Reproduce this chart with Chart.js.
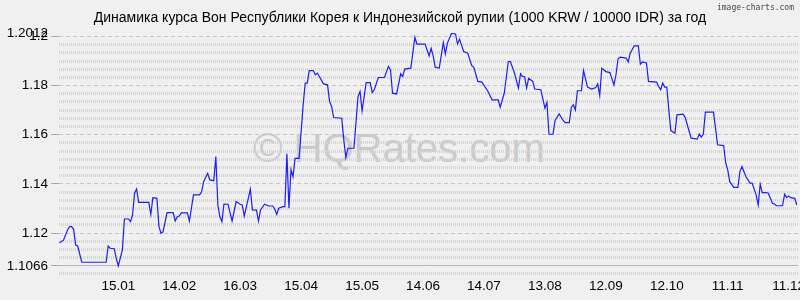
<!DOCTYPE html>
<html>
<head>
<meta charset="utf-8">
<script src="https://cdn.jsdelivr.net/npm/chart.js@4"></script>
<style>
  body { margin: 0; background: #f0f0f0; }
  #wrap { position: relative; width: 800px; height: 300px; overflow: hidden; }
  #chart { position: absolute; left: 0; top: 0; z-index: 2; }
  .title { position: absolute; left: 0; width: 800px; top: 9px; text-align: center;
           font: 14px "Liberation Sans", Arial, sans-serif; color: #000; z-index: 3; }
  .brand { position: absolute; right: 6px; top: 3px; font: 8px "DejaVu Sans Mono", monospace;
           color: #444; z-index: 3; }
  .mark { position: absolute; left: 253px; top: 128px; font: 40px/40px "Liberation Sans", Arial, sans-serif;
          color: #cacaca; white-space: nowrap; z-index: 1; }
</style>
</head>
<body>
<div id="wrap">
  <div class="mark">© HQRates.com</div>
  <canvas id="chart" width="800" height="300"></canvas>
  <div class="title">Динамика курса Вон Республики Корея к Индонезийской рупии (1000 KRW / 10000 IDR) за год</div>
  <div class="brand">image-charts.com</div>
</div>
<script>
// days counted from 16.12 of the previous year
const days = [1, 3, 5, 6, 7, 8, 9, 10, 12, 24, 25, 26, 28, 29, 30, 32, 33, 35, 36, 37, 38, 39, 40, 45, 46, 47, 49, 50,
  51, 52, 54, 57, 58, 59, 60, 61, 64, 65, 67, 70, 71, 72, 74, 75, 77, 78, 79, 80, 81, 82, 84, 86, 88, 90, 91, 92,
  95, 96, 98, 99, 100, 102, 104, 106, 107, 108, 109, 111, 112, 113, 114, 115, 116, 117, 119, 121, 122, 123, 124,
  126, 127, 128, 131, 133, 134, 135, 136, 140, 141, 142, 143, 146, 148, 149, 150, 152, 154, 155, 156, 158, 161,
  163, 164, 165, 167, 169, 170, 171, 174, 176, 177, 181, 183, 184, 185, 186, 188, 190, 191, 192, 194, 196, 197,
  198, 200, 202, 204, 205, 207, 209, 212, 214, 217, 218, 220, 222, 223, 225, 227, 228, 229, 230, 231, 232, 234,
  235, 238, 240, 241, 242, 244, 245, 247, 249, 250, 252, 253, 254, 255, 256, 258, 259, 261, 263, 265, 266, 267,
  268, 270, 272, 274, 275, 276, 277, 280, 281, 282, 284, 286, 287, 288, 290, 291, 295, 296, 297, 298, 299, 300,
  301, 302, 304, 305, 308, 309, 312, 315, 316, 317, 318, 319, 323, 325, 328, 329, 330, 331, 333, 335, 336, 337,
  339, 341, 342, 344, 345, 346, 347, 349, 350, 352, 353, 354, 357, 358, 359, 360, 361, 363, 364];

const rates = [1.1160, 1.1171, 1.1212, 1.1226, 1.1226, 1.1215, 1.1151, 1.1147, 1.1081, 1.1081, 1.1147, 1.1138,
  1.1136, 1.1097, 1.1066, 1.1131, 1.1257, 1.1257, 1.1246, 1.1273, 1.1362, 1.1379, 1.1325, 1.1325, 1.1276, 1.1344,
  1.1341, 1.1226, 1.1199, 1.1205, 1.1283, 1.1283, 1.1249, 1.1266, 1.1269, 1.1282, 1.1282, 1.1249, 1.1355, 1.1355,
  1.1368, 1.1409, 1.1443, 1.1416, 1.1413, 1.1511, 1.1314, 1.1266, 1.1246, 1.1318, 1.1317, 1.1249, 1.1328, 1.1317,
  1.1314, 1.1269, 1.1378, 1.1294, 1.1293, 1.1249, 1.1294, 1.1317, 1.1310, 1.1310, 1.1298, 1.1276, 1.1301, 1.1307,
  1.1307, 1.1522, 1.1301, 1.1457, 1.1429, 1.1504, 1.1504, 1.1722, 1.1810, 1.1810, 1.1861, 1.1861, 1.1844, 1.1851,
  1.1807, 1.1803, 1.1735, 1.1715, 1.1670, 1.1667, 1.1579, 1.1508, 1.1545, 1.1545, 1.1755, 1.1776, 1.1697, 1.1812,
  1.1812, 1.1772, 1.1783, 1.1833, 1.1833, 1.1878, 1.1864, 1.1769, 1.1766, 1.1848, 1.1837, 1.1867, 1.1871, 1.1997,
  1.1969, 1.1969, 1.1921, 1.1952, 1.1921, 1.1875, 1.1871, 1.1975, 1.1929, 1.1973, 1.2012, 1.2010, 1.1969, 1.1989,
  1.1939, 1.1932, 1.1881, 1.1874, 1.1817, 1.1814, 1.1776, 1.1742, 1.1742, 1.1712, 1.1769, 1.1898, 1.1898, 1.1851,
  1.1790, 1.1848, 1.1837, 1.1837, 1.1790, 1.1830, 1.1817, 1.1786, 1.1783, 1.1708, 1.1731, 1.1602, 1.1602, 1.1658,
  1.1685, 1.1658, 1.1649, 1.1649, 1.1711, 1.1722, 1.1701, 1.1779, 1.1779, 1.1861, 1.1794, 1.1786, 1.1792, 1.1807,
  1.1759, 1.1871, 1.1857, 1.1853, 1.1803, 1.1844, 1.1908, 1.1916, 1.1912, 1.1896, 1.1932, 1.1962, 1.1962, 1.1887,
  1.1896, 1.1892, 1.1817, 1.1814, 1.1796, 1.1783, 1.1810, 1.1794, 1.1794, 1.1701, 1.1617, 1.1606, 1.1681, 1.1684,
  1.1672, 1.1586, 1.1582, 1.1603, 1.1590, 1.1603, 1.1692, 1.1692, 1.1559, 1.1556, 1.1486, 1.1457, 1.1409, 1.1386,
  1.1386, 1.1450, 1.1470, 1.1429, 1.1403, 1.1403, 1.1355, 1.1314, 1.1398, 1.1364, 1.1364, 1.1362, 1.1321, 1.1318,
  1.1311, 1.1311, 1.1358, 1.1344, 1.1351, 1.1344, 1.1341, 1.1314];

const xTickDays = [30, 60, 90, 120, 150, 180, 210, 240, 270, 300, 330, 360];
const xTickLabels = ['15.01', '14.02', '16.03', '15.04', '15.05', '14.06', '14.07', '13.08', '12.09', '12.10', '11.11', '11.12'];

const yTickValues = [1.1066, 1.12, 1.14, 1.16, 1.18, 1.2, 1.2012];
const yTickLabels = ['1.1066', '1.12', '1.14', '1.16', '1.18', '1.2', '1.2012'];
const yMajor = [1.12, 1.14, 1.16, 1.18, 1.2];

const Y_MIN = 1.1021, Y_MAX = 1.2014;
const FONT = '"Liberation Sans", Arial, sans-serif';

// light rows every 1/300 from 1.2 down, skipping the labelled ones
const minorRows = [];
for (let k = 1; k <= 29; k++) {
  if (k % 6 === 0 || k === 28) continue;
  minorRows.push(1.2 - k / 300);
}

const points = days.map((d, i) => ({ x: d, y: rates[i] }));

function fixTicks(values) {
  return scale => { scale.ticks = values.map(v => ({ value: v })); };
}

new Chart(document.getElementById('chart').getContext('2d'), {
  type: 'line',
  data: {
    datasets: [{
      data: points,
      borderColor: '#1c1cff',
      borderWidth: 1.2,
      pointRadius: 0,
      tension: 0,
      xAxisID: 'x',
      yAxisID: 'y'
    }]
  },
  options: {
    responsive: false,
    animation: false,
    devicePixelRatio: 1,
    layout: { padding: { top: 33, right: 2, left: 0, bottom: 0 } },
    plugins: { legend: { display: false }, tooltip: { enabled: false } },
    scales: {
      x: {
        type: 'linear', min: 0.8, max: 364.6,
        afterBuildTicks: fixTicks(xTickDays),
        ticks: {
          autoSkip: false, maxRotation: 0, padding: 1, color: '#000',
          font: { family: FONT, size: 13.5 },
          callback: (v, i) => xTickLabels[i]
        },
        grid: { display: false, drawTicks: false },
        border: { display: false },
        afterFit: s => { s.height = 23; s.paddingLeft = 0; s.paddingRight = 0; }
      },
      y: {
        type: 'linear', position: 'left', min: Y_MIN, max: Y_MAX,
        afterBuildTicks: fixTicks(yTickValues),
        ticks: {
          autoSkip: false, padding: 3, color: '#000',
          font: { family: FONT, size: 13.5 },
          callback: (v, i) => yTickLabels[i]
        },
        grid: {
          color: c => yMajor.includes(c.tick && c.tick.value) ? '#c6c6c6' : 'rgba(0,0,0,0)',
          lineWidth: 1, drawTicks: true, tickLength: 8,
          tickColor: c => (c.tick && c.tick.value === 1.2012) ? 'rgba(0,0,0,0)' : '#aaaaaa'
        },
        border: { display: false, dash: [4, 3] },
        afterFit: s => { s.width = 59; }
      },
      yMinor: {
        type: 'linear', position: 'left', min: Y_MIN, max: Y_MAX,
        afterBuildTicks: fixTicks(minorRows),
        ticks: { display: false },
        grid: { color: '#d3d3d3', lineWidth: 3, drawTicks: false },
        border: { display: false, dash: [1, 1] },
        afterFit: s => { s.width = 0; }
      },
      yBase: {
        type: 'linear', position: 'left', min: Y_MIN, max: Y_MAX,
        afterBuildTicks: fixTicks([1.1066]),
        ticks: { display: false },
        grid: { color: '#b4b4b4', lineWidth: 1, drawTicks: false },
        border: { display: false },
        afterFit: s => { s.width = 0; }
      }
    }
  }
});
</script>
</body>
</html>
